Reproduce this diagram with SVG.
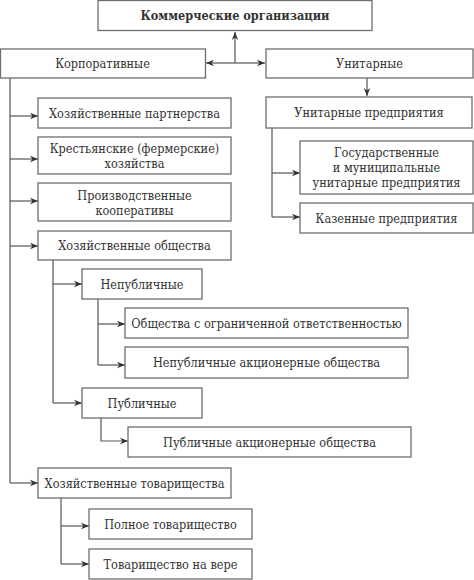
<svg xmlns="http://www.w3.org/2000/svg" width="474" height="580" viewBox="0 0 474 580">
<style>
.b{fill:#fff;stroke:#6e6e6e;stroke-width:1.3}
.t{font-family:"DejaVu Serif Condensed","DejaVu Serif",serif;font-stretch:condensed;font-size:12.6px;fill:#333;text-anchor:middle}
.tb{font-weight:bold}
.c{fill:none;stroke:#555;stroke-width:1.2}
</style>
<defs>
<marker id="a" viewBox="0 0 10 10" refX="10" refY="5" markerWidth="8" markerHeight="8" markerUnits="userSpaceOnUse" orient="auto">
<path d="M0,1 L10,5 L0,9 L3,5 Z" fill="#333"/>
</marker>
</defs>
<rect width="474" height="580" fill="#fff"/>
<g id="connectors">
<path class="c" d="M235,63 V32" marker-end="url(#a)"/>
<path class="c" d="M235,63 H206" marker-end="url(#a)"/>
<path class="c" d="M235,63 H265" marker-end="url(#a)"/>
<path class="c" d="M367,78 V96" marker-end="url(#a)"/>
<path class="c" d="M10,78 V483"/>
<path class="c" d="M10,116 H38" marker-end="url(#a)"/>
<path class="c" d="M10,159 H38" marker-end="url(#a)"/>
<path class="c" d="M10,201 H38" marker-end="url(#a)"/>
<path class="c" d="M10,246 H38" marker-end="url(#a)"/>
<path class="c" d="M10,483 H38" marker-end="url(#a)"/>
<path class="c" d="M272,128 V217"/>
<path class="c" d="M272,173 H300" marker-end="url(#a)"/>
<path class="c" d="M272,217 H300" marker-end="url(#a)"/>
<path class="c" d="M53,260 V403"/>
<path class="c" d="M53,284 H82" marker-end="url(#a)"/>
<path class="c" d="M53,403 H82" marker-end="url(#a)"/>
<path class="c" d="M98,299 V365"/>
<path class="c" d="M98,324 H125" marker-end="url(#a)"/>
<path class="c" d="M98,365 H125" marker-end="url(#a)"/>
<path class="c" d="M101,418 V441 H128" marker-end="url(#a)"/>
<path class="c" d="M61,498 V564"/>
<path class="c" d="M61,526 H89" marker-end="url(#a)"/>
<path class="c" d="M61,564 H89" marker-end="url(#a)"/>
</g>
<g id="n-root"><rect class="b" x="98" y="0.5" width="274" height="30"/><text class="t tb" x="235" y="20">Коммерческие организации</text></g>
<g id="n-korp"><rect class="b" x="0.5" y="49" width="205" height="29"/><text class="t" x="102.5" y="68">Корпоративные</text></g>
<g id="n-unit"><rect class="b" x="266" y="49" width="207" height="29"/><text class="t" x="369.5" y="68">Унитарные</text></g>
<g id="n-up"><rect class="b" x="266" y="97" width="206" height="31"/><text class="t" x="369" y="117">Унитарные предприятия</text></g>
<g id="n-gmup"><rect class="b" x="300" y="141" width="173" height="53"/><text class="t" x="386.5" y="157">Государственные</text><text class="t" x="386.5" y="172">и муниципальные</text><text class="t" x="386.5" y="187">унитарные предприятия</text></g>
<g id="n-kaz"><rect class="b" x="300" y="203" width="173" height="30"/><text class="t" x="386.5" y="223">Казенные предприятия</text></g>
<g id="n-hp"><rect class="b" x="38" y="98" width="193" height="30"/><text class="t" x="134.5" y="118">Хозяйственные партнерства</text></g>
<g id="n-kfh"><rect class="b" x="38" y="137" width="193" height="37"/><text class="t" x="134.5" y="153">Крестьянские (фермерские)</text><text class="t" x="134.5" y="168">хозяйства</text></g>
<g id="n-pk"><rect class="b" x="38" y="183" width="193" height="38"/><text class="t" x="134.5" y="200">Производственные</text><text class="t" x="134.5" y="215">кооперативы</text></g>
<g id="n-ho"><rect class="b" x="38" y="231" width="193" height="29"/><text class="t" x="134.5" y="250">Хозяйственные общества</text></g>
<g id="n-nepub"><rect class="b" x="82" y="269" width="120" height="30"/><text class="t" x="142" y="289">Непубличные</text></g>
<g id="n-ooo"><rect class="b" x="125" y="308" width="283" height="30"/><text class="t" x="266.5" y="328">Общества с ограниченной ответственностью</text></g>
<g id="n-nao"><rect class="b" x="125" y="347" width="283" height="31"/><text class="t" x="266.5" y="367">Непубличные акционерные общества</text></g>
<g id="n-pub"><rect class="b" x="82" y="388" width="120" height="30"/><text class="t" x="142" y="408">Публичные</text></g>
<g id="n-pao"><rect class="b" x="128" y="427" width="283" height="30"/><text class="t" x="269.5" y="447">Публичные акционерные общества</text></g>
<g id="n-ht"><rect class="b" x="38" y="468" width="193" height="30"/><text class="t" x="134.5" y="488">Хозяйственные товарищества</text></g>
<g id="n-pt"><rect class="b" x="89" y="509" width="163" height="30"/><text class="t" x="170.5" y="529">Полное товарищество</text></g>
<g id="n-tv"><rect class="b" x="89" y="549" width="163" height="30"/><text class="t" x="170.5" y="569">Товарищество на вере</text></g>
</svg>
